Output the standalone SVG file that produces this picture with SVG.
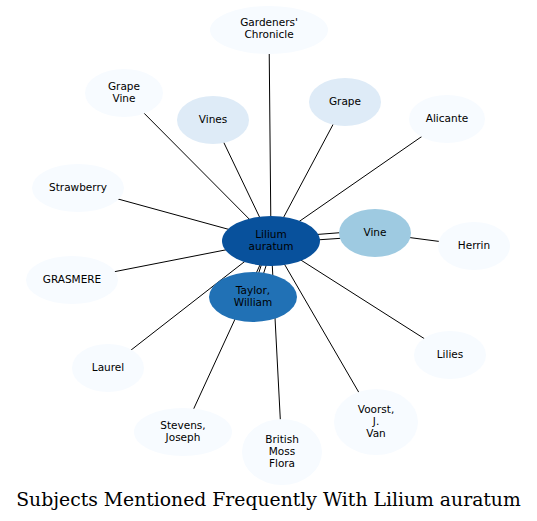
<svg xmlns="http://www.w3.org/2000/svg" width="537" height="521" viewBox="0 0 537 521">
<style>
.e{stroke:#000;stroke-width:1;fill:none}
.n0{fill:#f7fbff}
.n1{fill:#deebf7}
.n2{fill:#9ecae1}
.n3{fill:#2171b5}
.n4{fill:#08519c}
text{font-family:"DejaVu Sans",sans-serif;font-size:10.5px;text-anchor:middle;fill:#000}
.t{font-family:"DejaVu Serif",serif;font-size:18.8px}
</style>
<rect width="537" height="521" fill="#fff"/>
<g id="edges">
<line class="e" x1="271" y1="241" x2="269" y2="30"/>
<line class="e" x1="271" y1="241" x2="124" y2="93"/>
<line class="e" x1="271" y1="241" x2="213" y2="120"/>
<line class="e" x1="271" y1="241" x2="345" y2="102"/>
<line class="e" x1="271" y1="241" x2="447" y2="119"/>
<line class="e" x1="271" y1="241" x2="78" y2="188"/>
<line class="e" x1="271" y1="241" x2="72" y2="280"/>
<line class="e" x1="271" y1="241" x2="108" y2="368"/>
<line class="e" x1="271" y1="241" x2="183" y2="432"/>
<line class="e" x1="271" y1="241" x2="282" y2="452"/>
<line class="e" x1="271" y1="241" x2="376" y2="422"/>
<line class="e" x1="271" y1="241" x2="450" y2="355"/>
<line class="e" x1="271" y1="238" x2="375" y2="230"/>
<line class="e" x1="271" y1="243" x2="375" y2="236"/>
<line class="e" x1="269" y1="241" x2="251" y2="297"/>
<line class="e" x1="274" y1="241" x2="256" y2="297"/>
<line class="e" x1="375" y1="233" x2="474" y2="246"/>
</g>
<g id="n-gc"><ellipse class="n0" cx="269" cy="30" rx="59" ry="24"/><text x="269" y="26">Gardeners'</text><text x="269" y="38">Chronicle</text></g>
<g id="n-grapevine"><ellipse class="n0" cx="124" cy="93" rx="39" ry="24"/><text x="124" y="90">Grape</text><text x="124" y="102">Vine</text></g>
<g id="n-vines"><ellipse class="n1" cx="213" cy="120" rx="36" ry="24"/><text x="213" y="123">Vines</text></g>
<g id="n-grape"><ellipse class="n1" cx="345" cy="102" rx="36" ry="24"/><text x="345" y="105">Grape</text></g>
<g id="n-alicante"><ellipse class="n0" cx="447" cy="119" rx="38" ry="24"/><text x="447" y="122">Alicante</text></g>
<g id="n-strawberry"><ellipse class="n0" cx="78" cy="188" rx="46" ry="24"/><text x="78" y="191">Strawberry</text></g>
<g id="n-herrin"><ellipse class="n0" cx="474" cy="246" rx="36" ry="24"/><text x="474" y="249">Herrin</text></g>
<g id="n-grasmere"><ellipse class="n0" cx="72" cy="280" rx="46" ry="24"/><text x="72" y="283">GRASMERE</text></g>
<g id="n-lilies"><ellipse class="n0" cx="450" cy="355" rx="36" ry="24"/><text x="450" y="358">Lilies</text></g>
<g id="n-laurel"><ellipse class="n0" cx="108" cy="368" rx="36" ry="24"/><text x="108" y="371">Laurel</text></g>
<g id="n-stevens"><ellipse class="n0" cx="183" cy="432" rx="49" ry="24"/><text x="183" y="429">Stevens,</text><text x="183" y="441">Joseph</text></g>
<g id="n-bmf"><ellipse class="n0" cx="282" cy="452" rx="40" ry="33"/><text x="282" y="443">British</text><text x="282" y="455">Moss</text><text x="282" y="467">Flora</text></g>
<g id="n-voorst"><ellipse class="n0" cx="376" cy="422" rx="42" ry="33"/><text x="376" y="413">Voorst,</text><text x="376" y="425">J.</text><text x="376" y="437">Van</text></g>
<g id="n-vine"><ellipse class="n2" cx="375" cy="233" rx="36" ry="24"/><text x="375" y="236">Vine</text></g>
<g id="n-taylor"><ellipse class="n3" cx="253" cy="297" rx="44" ry="25"/><text x="253" y="294">Taylor,</text><text x="253" y="306">William</text></g>
<g id="n-lilium"><ellipse class="n4" cx="271" cy="241" rx="49" ry="25"/><text x="271" y="238">Lilium</text><text x="271" y="250">auratum</text></g>
<text class="t" x="268.5" y="506">Subjects Mentioned Frequently With Lilium auratum</text>
</svg>
